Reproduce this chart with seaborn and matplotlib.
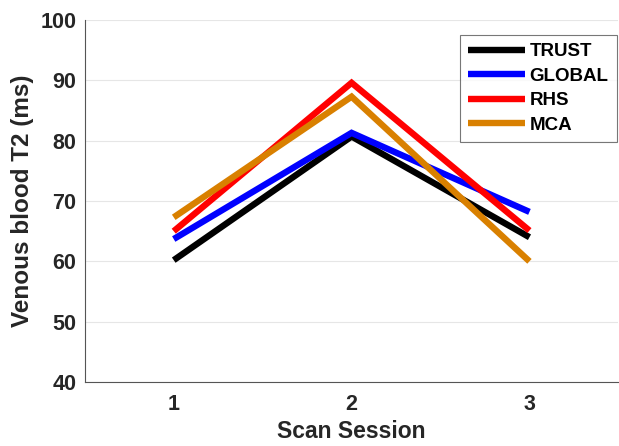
import matplotlib
matplotlib.use("Agg")
import matplotlib.pyplot as plt
import seaborn as sns
import pandas as pd
from matplotlib.lines import Line2D

sessions = [1, 2, 3]
trust = [60.2, 80.7, 64.0]
global_ = [63.7, 81.3, 68.2]
rhs = [65.0, 89.6, 65.1]
mca = [67.3, 87.3, 60.0]
series_names = ["TRUST", "GLOBAL", "RHS", "MCA"]
colors = ["#000000", "#0000FF", "#FF0000", "#D98000"]

rows = []
for name, vals in zip(series_names, [trust, global_, rhs, mca]):
    for s, v in zip(sessions, vals):
        rows.append({"session": s, "T2": v, "method": name})
df = pd.DataFrame(rows)

sns.set_theme(style="white")
plt.rcParams['font.family'] = ['Liberation Sans', 'DejaVu Sans']

fig = plt.figure(figsize=(6.19, 4.46), dpi=100)
ax = fig.add_axes([0.137, 0.1435, 0.862, 0.8115])

sns.lineplot(data=df, x="session", y="T2", hue="method", hue_order=series_names,
             palette=colors, linewidth=4.6, ax=ax, legend=False, zorder=3)
for line in ax.lines:
    line.set_solid_joinstyle('miter')
    line.set_solid_capstyle('butt')

ax.set_xlim(0.5, 3.5)
ax.set_ylim(40, 100)
ax.set_xticks([1, 2, 3])
ax.set_yticks([40, 50, 60, 70, 80, 90, 100])
ax.yaxis.grid(True, color="#e6e6e6", linewidth=0.8)
ax.set_axisbelow(True)

for side in ["top", "right"]:
    ax.spines[side].set_visible(False)
for side in ["left", "bottom"]:
    ax.spines[side].set_color("#555555")
    ax.spines[side].set_linewidth(0.8)

ax.tick_params(axis="both", direction="in", length=4, width=0.7, color="#555555",
               labelsize=15.5, labelcolor="#262626")
ax.tick_params(axis="x", pad=9)
ax.tick_params(axis="y", length=0, pad=6)
for lbl in ax.get_xticklabels() + ax.get_yticklabels():
    lbl.set_fontweight("bold")

ax.set_xlabel("Scan Session", fontsize=16.5, fontweight="bold", color="#262626", labelpad=3)
ax.set_ylabel("Venous blood T2 (ms)", fontsize=17.5, fontweight="bold", color="#262626", labelpad=5)

handles = [Line2D([0], [0], color=c, linewidth=4.6, solid_capstyle='butt') for c in colors]
leg = ax.legend(handles, series_names, loc="upper right", bbox_to_anchor=(0.997, 0.96),
                frameon=True, fancybox=False, handlelength=3.0, handletextpad=0.25,
                borderpad=0.45, labelspacing=0.4, borderaxespad=0,
                prop={"weight": "bold", "size": 13.5})
leg.get_frame().set_edgecolor("#555555")
leg.get_frame().set_linewidth(0.8)
for t in leg.get_texts():
    t.set_color("#000000")

fig.savefig("out.png", dpi=100)
